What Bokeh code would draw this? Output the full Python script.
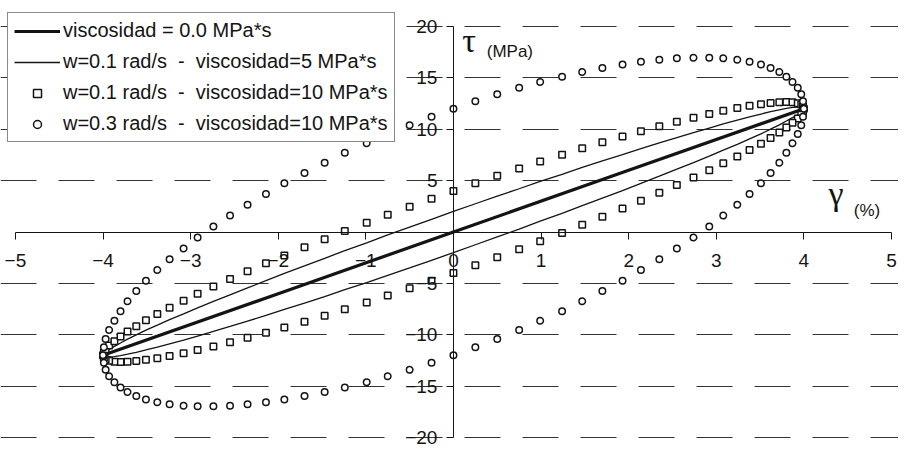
from bokeh.plotting import figure
from bokeh.models import (Range1d, LinearAxis, FixedTicker, Legend, LegendItem,
                          Label, Grid, ColumnDataSource)
from bokeh.embed import file_html
from bokeh.resources import INLINE

# ---------------- data ----------------
x_ticks = [-5, -4, -3, -2, -1, 0, 1, 2, 3, 4, 5]
y_ticks = [-20, -15, -10, -5, 5, 10, 15, 20]
grid_ticks = [-20, -15, -10, -5, 5, 10, 15, 20]

legend_labels = [
    "viscosidad = 0.0 MPa*s",
    "w=0.1 rad/s  -  viscosidad=5 MPa*s",
    "w=0.1 rad/s  -  viscosidad=10 MPa*s",
    "w=0.3 rad/s  -  viscosidad=10 MPa*s",
]

# purely elastic response (thick line)
gamma_elastic = [-4.0, -2.0, 0.0, 2.0, 4.0]
tau_elastic = [-12.0, -6.0, 0.0, 6.0, 12.0]

# strain of the loops (%), shared by the three viscoelastic series
gamma = [0.00, 0.25, 0.50, 0.75, 0.99, 1.24, 1.47, 1.70, 1.93, 2.14, 2.35, 2.55, 2.74,
         2.92, 3.08, 3.24, 3.38, 3.51, 3.62, 3.72, 3.80, 3.87, 3.93, 3.97, 3.99, 4.00,
         3.99, 3.97, 3.93, 3.87, 3.80, 3.72, 3.62, 3.51, 3.38, 3.24, 3.08, 2.92, 2.74,
         2.55, 2.35, 2.14, 1.93, 1.70, 1.47, 1.24, 0.99, 0.75, 0.50, 0.25, 0.00,
         -0.25, -0.50, -0.75, -0.99, -1.24, -1.47, -1.70, -1.93, -2.14, -2.35, -2.55, -2.74,
         -2.92, -3.08, -3.24, -3.38, -3.51, -3.62, -3.72, -3.80, -3.87, -3.93, -3.97, -3.99, -4.00,
         -3.99, -3.97, -3.93, -3.87, -3.80, -3.72, -3.62, -3.51, -3.38, -3.24, -3.08, -2.92,
         -2.74, -2.55, -2.35, -2.14, -1.93, -1.70, -1.47, -1.24, -0.99, -0.75, -0.50, -0.25]

# w=0.1 rad/s, viscosidad=5 MPa*s (thin line)
tau_thin = [2.00, 2.75, 3.49, 4.21, 4.92, 5.61, 6.28, 6.92, 7.53, 8.12, 8.67, 9.19, 9.67,
            10.12, 10.52, 10.88, 11.20, 11.48, 11.71, 11.89, 12.03, 12.12, 12.16, 12.16, 12.10, 12.00,
            11.85, 11.65, 11.41, 11.13, 10.80, 10.42, 10.01, 9.55, 9.06, 8.53, 7.97, 7.38, 6.76,
            6.11, 5.44, 4.74, 4.03, 3.30, 2.56, 1.81, 1.05, 0.28, -0.48, -1.24, -2.00,
            -2.75, -3.49, -4.21, -4.92, -5.61, -6.28, -6.92, -7.53, -8.12, -8.67, -9.19, -9.67,
            -10.12, -10.52, -10.88, -11.20, -11.48, -11.71, -11.89, -12.03, -12.12, -12.16, -12.16, -12.10, -12.00,
            -11.85, -11.65, -11.41, -11.13, -10.80, -10.42, -10.01, -9.55, -9.06, -8.53, -7.97, -7.38,
            -6.76, -6.11, -5.44, -4.74, -4.03, -3.30, -2.56, -1.81, -1.05, -0.28, 0.48, 1.24]

# w=0.1 rad/s, viscosidad=10 MPa*s (squares)
tau_squares = [4.00, 4.75, 5.47, 6.18, 6.86, 7.51, 8.14, 8.73, 9.29, 9.81, 10.29, 10.73, 11.13,
               11.49, 11.80, 12.06, 12.28, 12.44, 12.56, 12.63, 12.65, 12.62, 12.54, 12.41, 12.23, 12.00,
               11.73, 11.40, 11.04, 10.63, 10.18, 9.69, 9.16, 8.59, 7.99, 7.36, 6.70, 6.01, 5.30,
               4.57, 3.82, 3.05, 2.28, 1.49, 0.70, -0.10, -0.89, -1.68, -2.46, -3.24, -4.00,
               -4.75, -5.47, -6.18, -6.86, -7.51, -8.14, -8.73, -9.29, -9.81, -10.29, -10.73, -11.13,
               -11.49, -11.80, -12.06, -12.28, -12.44, -12.56, -12.63, -12.65, -12.62, -12.54, -12.41, -12.23, -12.00,
               -11.73, -11.40, -11.04, -10.63, -10.18, -9.69, -9.16, -8.59, -7.99, -7.36, -6.70, -6.01,
               -5.30, -4.57, -3.82, -3.05, -2.28, -1.49, -0.70, 0.10, 0.89, 1.68, 2.46, 3.24]

# w=0.3 rad/s, viscosidad=10 MPa*s (circles)
tau_circles = [12.00, 12.73, 13.41, 14.04, 14.61, 15.12, 15.57, 15.97, 16.30, 16.56, 16.76, 16.90, 16.96,
               16.96, 16.90, 16.76, 16.56, 16.30, 15.97, 15.57, 15.12, 14.61, 14.04, 13.41, 12.73, 12.00,
               11.22, 10.40, 9.54, 8.64, 7.71, 6.74, 5.75, 4.74, 3.70, 2.66, 1.60, 0.53, -0.53,
               -1.60, -2.66, -3.70, -4.74, -5.75, -6.74, -7.71, -8.64, -9.54, -10.40, -11.22, -12.00,
               -12.73, -13.41, -14.04, -14.61, -15.12, -15.57, -15.97, -16.30, -16.56, -16.76, -16.90, -16.96,
               -16.96, -16.90, -16.76, -16.56, -16.30, -15.97, -15.57, -15.12, -14.61, -14.04, -13.41, -12.73, -12.00,
               -11.22, -10.40, -9.54, -8.64, -7.71, -6.74, -5.75, -4.74, -3.70, -2.66, -1.60, -0.53,
               0.53, 1.60, 2.66, 3.70, 4.74, 5.75, 6.74, 7.71, 8.64, 9.54, 10.40, 11.22]

# ---------------- figure ----------------
INK = "#141414"
FONT = "Liberation Sans"

p = figure(width=898, height=451,
           x_range=Range1d(-5.17, 5.08), y_range=Range1d(-21.36, 22.53),
           x_axis_type=None, y_axis_type=None,
           output_backend="svg", toolbar_location=None, min_border=0)
p.outline_line_color = None
p.background_fill_color = "white"

# dashed horizontal grid
grid = Grid(dimension=1, ticker=FixedTicker(ticks=grid_ticks),
            grid_line_color="#333333", grid_line_width=1, grid_line_dash="36 22")
p.add_layout(grid)

# axes crossing at the origin
xaxis = LinearAxis(fixed_location=0, ticker=FixedTicker(ticks=x_ticks), bounds=(-5, 5))
yaxis = LinearAxis(fixed_location=0, ticker=FixedTicker(ticks=y_ticks), bounds=(-20, 20))
for ax in (xaxis, yaxis):
    ax.axis_line_color = INK
    ax.axis_line_width = 1
    ax.major_tick_line_color = INK
    ax.major_tick_in = 0
    ax.major_tick_out = 7
    ax.minor_tick_line_color = None
    ax.major_label_text_font = FONT
    ax.major_label_text_font_size = "19px"
    ax.major_label_text_color = INK
xaxis.major_label_standoff = 15
yaxis.major_label_standoff = 9
p.add_layout(xaxis, "below")
p.add_layout(yaxis, "left")

src = ColumnDataSource(data=dict(gamma=gamma, thin=tau_thin, sq=tau_squares, ci=tau_circles))

r_el = p.line(gamma_elastic, tau_elastic, line_color=INK, line_width=3.2)
r_thin = p.line(gamma + gamma[:1], tau_thin + tau_thin[:1], line_color=INK, line_width=1.3)
r_sq = p.scatter("gamma", "sq", source=src, marker="square", size=6.5,
                 fill_color="white", line_color=INK, line_width=1.5)
r_ci = p.scatter("gamma", "ci", source=src, marker="circle", size=6.5,
                 fill_color="white", line_color=INK, line_width=1.5)

legend = Legend(items=[LegendItem(label=legend_labels[0], renderers=[r_el]),
                       LegendItem(label=legend_labels[1], renderers=[r_thin]),
                       LegendItem(label=legend_labels[2], renderers=[r_sq]),
                       LegendItem(label=legend_labels[3], renderers=[r_ci])],
                location=(7, 309), margin=0, padding=6, spacing=8,
                glyph_width=46, glyph_height=20, label_height=20, label_standoff=3,
                label_text_font=FONT, label_text_font_size="20px", label_text_color=INK,
                border_line_color=INK, border_line_width=1,
                background_fill_color="white", background_fill_alpha=1.0)
p.add_layout(legend, "center")

# axis titles
p.add_layout(Label(x=0.1, y=16.8, text="τ", text_font="Liberation Serif",
                   text_font_size="34px", text_color=INK))
p.add_layout(Label(x=0.38, y=16.6, text="(MPa)", text_font=FONT,
                   text_font_size="17px", text_color=INK))
p.add_layout(Label(x=4.28, y=1.9, text="γ", text_font="Liberation Serif",
                   text_font_size="34px", text_color=INK))
p.add_layout(Label(x=4.57, y=1.2, text="(%)", text_font=FONT,
                   text_font_size="17px", text_color=INK))

open("out.html", "w").write(file_html(p, INLINE))
